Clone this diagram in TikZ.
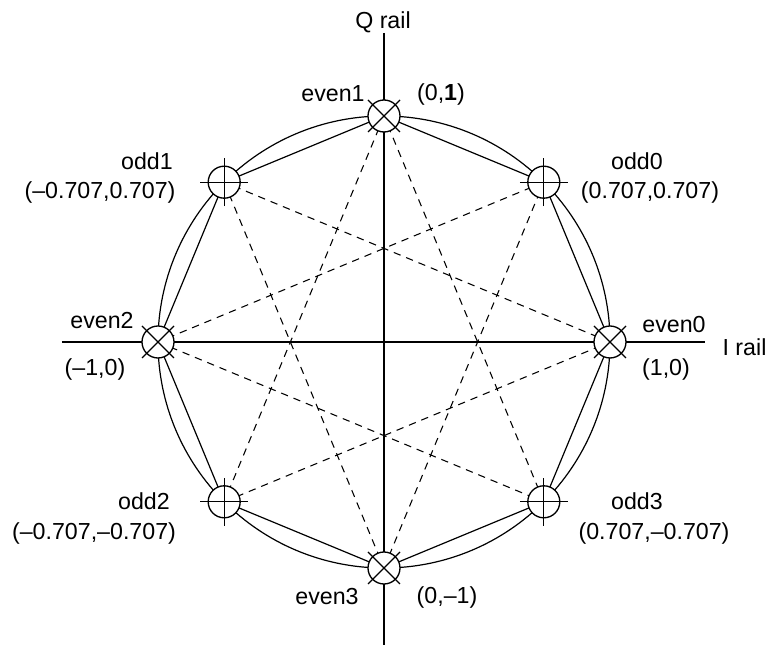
\documentclass[tikz,border=0pt]{standalone}
\usepackage{fontspec}
\setmainfont{Liberation Sans}
\usetikzlibrary{positioning,calc}

\begin{document}
\begin{tikzpicture}[
    x=0.75pt, y=0.75pt,
    line width=0.9pt,
    lbl/.style={inner sep=0pt, font=\fontsize{17.4}{19}\selectfont},
    ptmark/.style={draw, circle, fill=white, minimum size=24pt, inner sep=0pt, line width=1pt},
    starline/.style={dash pattern=on 5.5pt off 4.5pt, line width=0.8pt}
]
\useasboundingbox (-384,-303) rectangle (384,342);

% Constellation points
\foreach \a/\n in {0/e0, 45/o0, 90/e1, 135/o1, 180/e2, 225/o2, 270/e3, 315/o3}
    \coordinate (\n) at (\a:226);
\coordinate (c) at (0,0);

% Axes
\coordinate (qtop) at (0,309);
\coordinate (qbot) at (0,-303);
\coordinate (ileft) at (-322,0);
\coordinate (iright) at (321,0);
\draw (qtop) -- (qbot);
\draw (ileft) -- (iright);

% Dashed star
\foreach \p/\q in {e0/o1, o0/e2, e1/o2, o1/e3, e2/o3, o2/e0, e3/o0, o3/e1}
    \draw[starline] (\p) -- (\q);

% Chords and circle
\foreach \p/\q in {e0/o0, o0/e1, e1/o1, o1/e2, e2/o2, o2/e3, e3/o3, o3/e0}
    \draw (\p) -- (\q);
\draw (c) circle[radius=226];

% Even points
\foreach \n in {e0, e1, e2, e3} {
    \node[ptmark] (m\n) at (\n) {};
    \draw[line width=1pt] (\n) ++(-16,-16) -- ++(32,32);
    \draw[line width=1pt] (\n) ++(-16,16) -- ++(32,-32);
}

% Odd points
\foreach \n in {o0, o1, o2, o3} {
    \node[ptmark] (m\n) at (\n) {};
    \draw[line width=1pt] (\n) ++(-24,0) -- ++(48,0);
    \draw[line width=1pt] (\n) ++(0,-24) -- ++(0,48);
}

% Labels
\node[lbl] (qrail) at (-1,320) {Q rail};
\node[lbl, anchor=west] (irail) at (338,-5) {I rail};

\node[lbl] (ne0) at (290,17) {even0};
\node[lbl] (ce0) at (282,-28) {(1,0)};
\node[lbl] (ne1) at (-51,248) {even1};
\node[lbl] (ce1) at (57,247) {(0,\textbf{1})};
\node[lbl] (ne2) at (-282,21) {even2};
\node[lbl] (ce2) at (-289,-28) {(–1,0)};
\node[lbl] (ne3) at (-57,-255) {even3};
\node[lbl] (ce3) at (63,-255) {(0,–1)};

\node[lbl] (no0) at (253,181) {odd0};
\node[lbl] (co0) at (266,149) {(0.707,0.707)};
\node[lbl] (no1) at (-237,181) {odd1};
\node[lbl] (co1) at (-284,149) {(–0.707,0.707)};
\node[lbl] (no2) at (-240,-159) {odd2};
\node[lbl] (co2) at (-290,-191) {(–0.707,–0.707)};
\node[lbl] (no3) at (253,-159) {odd3};
\node[lbl] (co3) at (270,-191) {(0.707,–0.707)};

\end{tikzpicture}
\end{document}
